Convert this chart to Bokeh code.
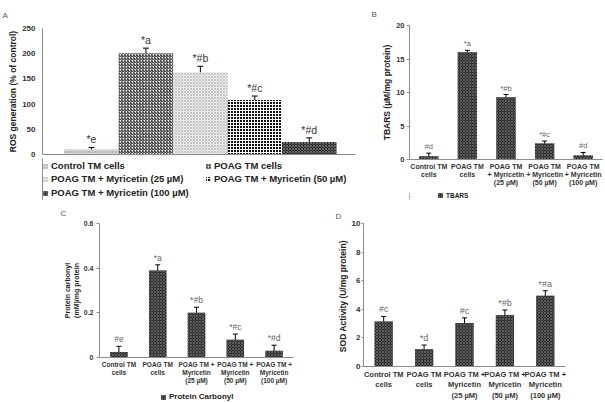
from bokeh.plotting import figure
from bokeh.models import (Range1d, FixedTicker, Whisker, TeeHead, ColumnDataSource,
                          Legend, LegendItem)
from bokeh.layouts import column, row
from bokeh.embed import file_html
from bokeh.resources import INLINE
from bokeh.core.properties import value

FONT = "Liberation Sans"

# ---------------- data ----------------
# Panel A: ROS generation
ros_groups = ["Control TM cells", "POAG TM cells", "POAG TM + Myricetin (25 µM)",
              "POAG TM + Myricetin (50 µM)", "POAG TM + Myricetin (100 µM)"]
ros_values = [10, 201, 163, 108, 25]
ros_errors = [4, 10, 12, 8, 8]
ros_marks = ["*e", "*a", "*#b", "*#c", "*#d"]
ros_ticks = [0, 50, 100, 150, 200, 250]

# Panel B: TBARS
tbars_labels = ["Control TM\ncells", "POAG TM\ncells", "POAG TM\n+ Myricetin\n(25 µM)",
                "POAG TM\n+ Myricetin\n(50 µM)", "POAG TM\n+ Myricetin\n(100 µM)"]
tbars_values = [0.5, 16.0, 9.3, 2.4, 0.6]
tbars_errors = [0.45, 0.3, 0.4, 0.35, 0.45]
tbars_marks = ["#d", "*a", "*#b", "*#c", "#d"]
tbars_ticks = [0, 5, 10, 15, 20]

# Panel C: Protein carbonyl
pc_labels = ["Control TM\ncells", "POAG TM\ncells", "POAG TM +\nMyricetin\n(25 µM)",
             "POAG TM +\nMyricetin\n(50 µM)", "POAG TM +\nMyricetin\n(100 µM)"]
pc_values = [0.025, 0.39, 0.2, 0.08, 0.03]
pc_errors = [0.025, 0.025, 0.025, 0.025, 0.025]
pc_marks = ["#e", "*a", "*#b", "*#c", "*#d"]
pc_ticks = [0, 0.2, 0.4, 0.6]

# Panel D: SOD activity
sod_labels = pc_labels
sod_values = [3.15, 1.2, 3.05, 3.6, 4.95]
sod_errors = [0.35, 0.3, 0.35, 0.35, 0.35]
sod_marks = ["#c", "*d", "#c", "*#b", "*#a"]
sod_ticks = [0, 2, 4, 6, 8, 10]

# styles for panel A bars
ros_fill = ["#e4e4e4", "#ffffff", "#f2f2f2", "#111111", "#262626"]
ros_hatch = ["x", "/", "x", "+", "x"]
ros_hatch_color = ["#b0b0b0", "#111111", "#c4c4c4", "#ffffff", "#6a6a6a"]

DARK_FILL = "#2a2a2a"
DARK_HATCH = "#5e5e5e"


def make_fig(width, height, left, right, top, bottom, xr, yr, letter, loff, lstand):
    p = figure(width=width, height=height, x_range=xr, y_range=yr,
               output_backend="svg", toolbar_location=None,
               min_border_left=left, min_border_right=right,
               min_border_top=top, min_border_bottom=bottom)
    p.title.text = letter
    p.title.align = "left"
    p.title.offset = loff
    p.title.standoff = lstand
    p.title.text_font = FONT
    p.title.text_font_size = "8px"
    p.title.text_font_style = "normal"
    p.title.text_color = "#555555"
    p.outline_line_color = None
    p.xgrid.visible = False
    p.ygrid.visible = False
    for ax in (p.xaxis[0], p.yaxis[0]):
        ax.axis_line_color = "#8c8c8c"
        ax.major_tick_line_color = "#8c8c8c"
        ax.minor_tick_line_color = None
        ax.major_label_text_font = FONT
        ax.major_label_text_font_style = "bold"
        ax.major_label_text_color = "#333333"
        ax.axis_label_text_font = FONT
        ax.axis_label_text_font_style = "bold"
        ax.axis_label_text_color = "#222222"
    p.yaxis.major_tick_in = 0
    p.yaxis.major_tick_out = 3
    p.xaxis.major_tick_line_color = None
    p.xaxis.major_tick_in = 0
    p.xaxis.major_tick_out = 0
    return p


def legend_fig(width, height):
    # strip under a panel that only holds its legend (proxy glyphs lie outside the view)
    f = figure(width=width, height=height, x_range=Range1d(10, 11), y_range=Range1d(10, 11),
               output_backend="svg", toolbar_location=None,
               x_axis_location=None, y_axis_location=None, min_border=0)
    f.outline_line_color = None
    f.grid.visible = False
    f.axis.visible = False
    return f


def add_errors(p, src, head):
    p.add_layout(Whisker(base="x", upper="top", lower="bottom", source=src,
                         line_color="black", line_width=1,
                         upper_head=TeeHead(size=head, line_color="black", line_width=1),
                         lower_head=TeeHead(size=head, line_color="black", line_width=1)))


def add_marks(p, src, size, color):
    p.text(x="x", y="top", text="mark", source=src, text_align="center",
           text_baseline="bottom", y_offset=-2, text_font=value(FONT),
           text_font_size=size, text_color=color)


def add_legend(p, items, loc, size):
    lg = Legend(items=items, orientation="horizontal", location=loc,
                spacing=6, glyph_width=6, glyph_height=6, label_standoff=3,
                label_height=8, padding=0, margin=0, border_line_color=None,
                background_fill_alpha=0, label_text_font=FONT,
                label_text_font_size=size, label_text_font_style="bold",
                label_text_color="#222222")
    p.add_layout(lg)
    return lg


def source(vals, errs, marks):
    xs = list(range(len(vals)))
    return ColumnDataSource(dict(
        x=xs, val=vals,
        top=[v + e for v, e in zip(vals, errs)],
        bottom=[v - e for v, e in zip(vals, errs)],
        mark=marks))


def dark_bars(p, src, width):
    return p.vbar(x="x", top="val", width=width, source=src, fill_color=DARK_FILL,
                  line_color=None, hatch_pattern="x", hatch_color=DARK_HATCH,
                  hatch_scale=3, hatch_weight=1)


# ---------------- Panel A ----------------
pa = make_fig(360, 158, 42, 5, 27, 4, Range1d(-0.9, 4.85), Range1d(0, 250), "A", -40, 17)
src_a = source(ros_values, ros_errors, ros_marks)
src_a.data.update(fill=ros_fill, hatch=ros_hatch, hcol=ros_hatch_color)
style_a = dict(x="x", top="val", width=1.0, source=src_a, fill_color="fill",
               line_color=None, hatch_pattern="hatch", hatch_color="hcol",
               hatch_scale=3, hatch_weight=1)
pa.vbar(**style_a)
add_errors(pa, src_a, 6)
add_marks(pa, src_a, "10.5px", "#333333")
pa.yaxis.ticker = FixedTicker(ticks=ros_ticks)
pa.yaxis.major_tick_out = 0
pa.yaxis.major_label_standoff = 7
pa.yaxis.axis_label = "ROS generation (% of control)"
pa.yaxis.axis_label_text_font_size = "8.5px"
pa.yaxis.axis_label_standoff = 1
pa.yaxis.major_label_text_font_size = "8px"
pa.xaxis.ticker = FixedTicker(ticks=[])
pa.xaxis.major_label_standoff = 0

la = legend_fig(360, 42)
ra = la.vbar(**style_a)
for rows_idx, vy in (([0, 1], 29), ([2, 3], 16), ([4], 2)):
    items = [LegendItem(label=ros_groups[i], renderers=[ra], index=i) for i in rows_idx]
    lg = add_legend(la, items, (0, vy), "9.5px")
    lg.label_width = 148

# ---------------- Panel B ----------------
pb = make_fig(245, 190, 49, 3, 24, 31, Range1d(-0.5, 4.5), Range1d(0, 20), "B", -38, 14)
src_b = source(tbars_values, tbars_errors, tbars_marks)
dark_bars(pb, src_b, 0.5)
add_errors(pb, src_b, 5)
add_marks(pb, src_b, "7.5px", "#666666")
pb.yaxis.ticker = FixedTicker(ticks=tbars_ticks)
pb.yaxis.axis_label = "TBARS (µM/mg protein)"
pb.yaxis.axis_label_text_font_size = "8.5px"
pb.yaxis.axis_label_standoff = 1
pb.yaxis.major_label_standoff = 2
pb.yaxis.major_label_text_font_size = "7.5px"
pb.xaxis.ticker = FixedTicker(ticks=list(range(5)))
pb.xaxis.major_label_overrides = {i: t for i, t in enumerate(tbars_labels)}
pb.xaxis.major_label_text_font_size = "7px"
pb.xaxis.major_label_standoff = 3

lb = legend_fig(245, 10)
rb = dark_bars(lb, src_b, 0.5)
add_legend(lb, [LegendItem(label="TBARS", renderers=[rb])], (28, 1), "6.5px")

# ---------------- Panel C ----------------
pc = make_fig(300, 187, 99, 7, 23, 27, Range1d(-0.5, 4.5), Range1d(0, 0.6), "C", -39, 11)
src_c = source(pc_values, pc_errors, pc_marks)
dark_bars(pc, src_c, 0.45)
add_errors(pc, src_c, 5)
add_marks(pc, src_c, "8.5px", "#666666")
pc.yaxis.ticker = FixedTicker(ticks=pc_ticks)
pc.yaxis.major_label_overrides = {0: "0"}
pc.yaxis.axis_label = "Protein carbonyl\n(mM)/mg protein"
pc.yaxis.axis_label_text_font_size = "7px"
pc.yaxis.axis_label_standoff = 1
pc.yaxis.major_label_standoff = 3
pc.yaxis.major_label_text_font_size = "7px"
pc.xaxis.ticker = FixedTicker(ticks=list(range(5)))
pc.xaxis.major_label_overrides = {i: t for i, t in enumerate(pc_labels)}
pc.xaxis.major_label_text_font_size = "6.5px"
pc.xaxis.major_label_standoff = 3

lc = legend_fig(300, 16)
rc = dark_bars(lc, src_c, 0.45)
add_legend(lc, [LegendItem(label="Protein Carbonyl", renderers=[rc])], (61, 2), "8px")

# ---------------- Panel D ----------------
pd_ = make_fig(305, 203, 63, 40, 23, 36, Range1d(-0.5, 4.5), Range1d(0, 10), "D", -28, 5)
src_d = source(sod_values, sod_errors, sod_marks)
dark_bars(pd_, src_d, 0.45)
add_errors(pd_, src_d, 5)
add_marks(pd_, src_d, "9px", "#666666")
pd_.yaxis.ticker = FixedTicker(ticks=sod_ticks)
pd_.yaxis.major_tick_out = 2
pd_.yaxis.axis_label = "SOD Activity  (U/mg protein)"
pd_.yaxis.axis_label_text_font_size = "8.5px"
pd_.yaxis.axis_label_standoff = 1
pd_.yaxis.major_label_standoff = 1
pd_.yaxis.major_label_text_font_size = "8px"
pd_.xaxis.ticker = FixedTicker(ticks=list(range(5)))
pd_.xaxis.major_label_overrides = {i: t for i, t in enumerate(sod_labels)}
pd_.xaxis.major_label_text_font_size = "7.5px"
pd_.xaxis.major_label_standoff = 3

layout = column(row(column(pa, la), column(pb, lb)), row(column(pc, lc), pd_))
open("out.html", "w").write(file_html(layout, INLINE))
